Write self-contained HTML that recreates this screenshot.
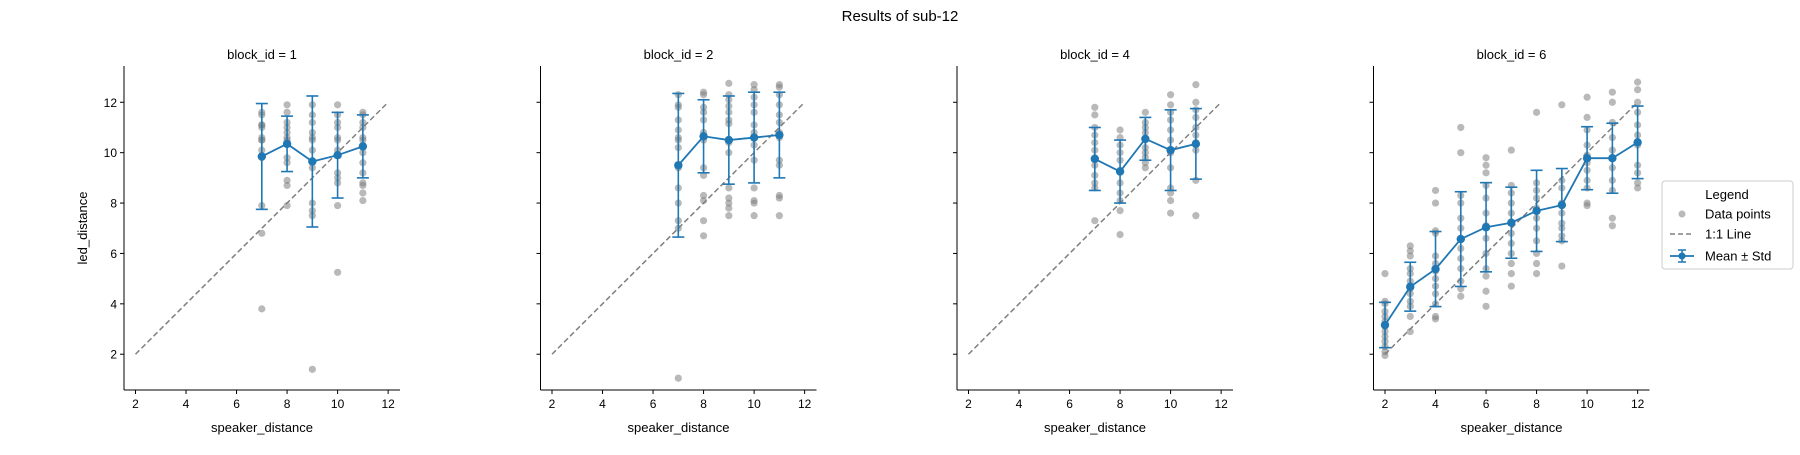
<!DOCTYPE html>
<html><head><meta charset="utf-8">
<style>
body{margin:0;background:#fff;}
svg text{font-family:"Liberation Sans","DejaVu Sans",sans-serif;fill:#000;}
</style></head>
<body>
<svg id="chart" width="1800" height="450" xmlns="http://www.w3.org/2000/svg">
<text x="900" y="21" font-size="15" text-anchor="middle">Results of sub-12</text>
<g id="panels"></g>
<g>
<rect x="1662" y="181" width="131" height="88" fill="#fff" stroke="#ccc" rx="3"/>
<text x="1727" y="199" font-size="13" text-anchor="middle">Legend</text>
<circle cx="1682" cy="214" r="3.5" fill="#808080" fill-opacity="0.55"/>
<text x="1705" y="218.5" font-size="13">Data points</text>
<line x1="1670" y1="234" x2="1694" y2="234" stroke="#808080" stroke-width="1.5" stroke-dasharray="5,3"/>
<text x="1705" y="238.5" font-size="13">1:1 Line</text>
<line x1="1670" y1="256" x2="1694" y2="256" stroke="#1f77b4" stroke-width="1.8"/>
<line x1="1682" y1="250" x2="1682" y2="262" stroke="#1f77b4" stroke-width="1.5"/>
<line x1="1678" y1="250" x2="1686" y2="250" stroke="#1f77b4" stroke-width="1.5"/>
<line x1="1678" y1="262" x2="1686" y2="262" stroke="#1f77b4" stroke-width="1.5"/>
<circle cx="1682" cy="256" r="3.5" fill="#1f77b4"/>
<text x="1705" y="260.5" font-size="13">Mean ± Std</text>
</g>
</svg>
<script>
const blockIds = [1, 2, 4, 6];
const meanX = [[7,8,9,10,11],[7,8,9,10,11],[7,8,9,10,11],[2,3,4,5,6,7,8,9,10,11,12]];
const meanY = [[9.85,10.35,9.65,9.9,10.25],[9.5,10.65,10.5,10.6,10.7],[9.75,9.25,10.55,10.1,10.35],[3.16,4.68,5.38,6.57,7.04,7.22,7.69,7.92,9.78,9.78,10.41]];
const stdY = [[2.1,1.1,2.6,1.7,1.25],[2.85,1.45,1.75,1.8,1.7],[1.25,1.25,0.85,1.6,1.4],[0.9,0.97,1.49,1.88,1.77,1.41,1.61,1.45,1.25,1.39,1.44]];
const pointsB1 = [[11.6,11.5,11.1,11.0,10.6,10.5,10.1,9.8,7.9,6.8,3.8,11.1,10.5],[11.9,11.6,11.2,11.0,10.8,10.6,10.5,9.8,9.6,8.9,8.7,7.9],[11.9,11.5,11.2,10.8,10.6,10.5,10.1,9.4,8.0,7.7,7.5,1.4],[11.9,11.5,11.2,11.0,10.6,10.5,10.1,9.2,9.0,8.8,7.9,5.25],[11.6,11.5,11.2,11.0,10.6,10.5,10.0,9.6,9.2,8.8,8.7,8.4,8.1]];
const pointsB2 = [[12.3,11.9,11.8,11.3,10.9,10.6,10.5,10.2,9.4,8.6,8.0,7.3,7.0,1.05],[12.4,12.3,11.8,11.6,11.3,10.8,10.5,9.4,9.1,8.3,8.1,7.3,6.7],[12.75,12.3,12.1,11.85,11.6,11.3,11.15,10.4,10.0,8.6,8.2,8.0,7.8,7.5],[12.7,12.5,12.2,11.9,11.6,11.1,10.8,10.3,9.7,8.6,8.1,8.0,7.5],[12.7,12.6,12.3,11.9,11.5,11.2,10.8,10.6,9.7,9.5,8.3,8.2,7.5]];
const pointsB4 = [[11.8,11.5,11.0,10.7,10.4,10.1,9.8,9.5,9.1,8.8,8.6,7.3],[10.9,10.6,10.3,10.0,9.7,9.3,8.8,8.4,8.1,7.7,6.75],[11.6,11.2,11.0,10.8,10.5,10.2,10.0,9.8,9.6,9.4],[12.3,11.9,11.6,11.3,10.9,10.5,10.0,9.4,8.6,8.4,8.1,7.6],[12.7,12.0,11.7,11.4,11.0,10.7,10.4,10.1,8.9,7.5]];
const pointsB6 = [[5.2,4.1,4.0,3.7,3.5,3.3,3.1,2.9,2.7,2.5,2.3,2.1,1.95],[6.3,6.1,5.9,5.4,5.2,4.9,4.6,4.4,4.1,3.9,3.5,2.9],[8.5,8.0,6.9,6.8,5.9,5.6,5.3,5.0,4.7,4.4,4.0,3.5,3.4],[11.0,10.0,8.3,8.0,7.4,7.0,6.6,6.2,5.8,5.4,4.9,4.6,4.3],[9.8,9.5,9.2,8.7,8.2,7.6,7.1,6.6,6.0,5.4,5.1,4.5,3.9],[10.1,8.7,8.4,8.0,7.6,7.2,6.8,6.4,6.0,5.6,5.2,4.7],[11.6,8.8,8.5,8.2,7.8,7.4,7.0,6.5,6.0,5.6,5.2],[11.9,8.9,8.6,8.0,7.6,7.2,7.0,6.7,6.5,5.5],[12.2,11.4,10.9,10.3,9.9,9.6,9.3,8.9,8.6,8.0,7.9],[12.4,12.0,11.2,10.6,10.1,9.8,9.4,8.9,8.5,7.4,7.1],[12.8,12.5,12.0,11.6,11.1,10.7,10.3,9.5,9.2,8.8,8.6]];
const pointsAll = [pointsB1, pointsB2, pointsB4, pointsB6];
const xTicks = [2,4,6,8,10,12];
const yTicks = [2,4,6,8,10,12];

const NS = "http://www.w3.org/2000/svg";
const root = document.getElementById('panels');
function mk(tag, attrs, parent){const e=document.createElementNS(NS,tag);for(const k in attrs)e.setAttribute(k,attrs[k]);parent.appendChild(e);return e;}
const axL0=124, axW=276, panelStep=416.5, axT=66, axB=390;
const xMin=1.545, xMax=12.47, yMin=0.58, yMax=13.44;
blockIds.forEach((bid, p) => {
  const L = axL0 + p*panelStep;
  const X = v => L + (v - xMin)/(xMax - xMin)*axW;
  const Y = v => axB - (v - yMin)/(yMax - yMin)*(axB - axT);
  const g = mk('g', {}, root);
  
  
  const t = mk('text', {x: L + axW/2, y: 59, 'font-size': 13, 'text-anchor': 'middle'}, g);
  t.textContent = 'block_id = ' + bid;
  
  
  // spines
  mk('line', {x1: L, y1: axT, x2: L, y2: axB, stroke: '#000', 'stroke-width': 1}, g);
  mk('line', {x1: L, y1: axB, x2: L + axW, y2: axB, stroke: '#000', 'stroke-width': 1}, g);
  xTicks.forEach(v => {
    mk('line', {x1: X(v), y1: axB, x2: X(v), y2: axB + 4, stroke: '#000'}, g);
    const tl = mk('text', {x: X(v), y: axB + 18, 'font-size': 12, 'text-anchor': 'middle'}, g);
    tl.textContent = v;
    
    
  });
  yTicks.forEach(v => {
    mk('line', {x1: L - 4, y1: Y(v), x2: L, y2: Y(v), stroke: '#000'}, g);
    if (p === 0) {
      const tl = mk('text', {x: L - 7, y: Y(v) + 4.5, 'font-size': 12, 'text-anchor': 'end'}, g);
      tl.textContent = v;
      
      
    }
  });
  const xl = mk('text', {x: L + axW/2, y: 432, 'font-size': 13, 'text-anchor': 'middle'}, g);
  xl.textContent = 'speaker_distance';
  
  
  if (p === 0) {
    const yl = mk('text', {x: 0, y: 0, 'font-size': 13, 'text-anchor': 'middle', transform: 'translate(87,' + ((axT+axB)/2) + ') rotate(-90)'}, g);
    yl.textContent = 'led_distance';
    
    
  }
  // scatter
  pointsAll[p].forEach((col, i) => {
    col.forEach(v => {
      const c = mk('circle', {cx: X(meanX[p][i]), cy: Y(v), r: 3.6, fill: '#808080', 'fill-opacity': 0.55}, g);
      
      
    });
  });
  // 1:1 line
  const dl = mk('line', {x1: X(2), y1: Y(2), x2: X(12), y2: Y(12), stroke: '#808080', 'stroke-width': 1.5, 'stroke-dasharray': '5.5,3'}, g);
  
  
  // error bars
  meanX[p].forEach((x, i) => {
    const m = meanY[p][i], s = stdY[p][i];
    mk('line', {x1: X(x), y1: Y(m - s), x2: X(x), y2: Y(m + s), stroke: '#1f77b4', 'stroke-width': 1.6}, g);
    mk('line', {x1: X(x) - 6, y1: Y(m - s), x2: X(x) + 6, y2: Y(m - s), stroke: '#1f77b4', 'stroke-width': 1.6}, g);
    mk('line', {x1: X(x) - 6, y1: Y(m + s), x2: X(x) + 6, y2: Y(m + s), stroke: '#1f77b4', 'stroke-width': 1.6}, g);
  });
  const pl = mk('polyline', {points: meanX[p].map((x, i) => X(x) + ',' + Y(meanY[p][i])).join(' '), fill: 'none', stroke: '#1f77b4', 'stroke-width': 1.8}, g);
  
  
  meanX[p].forEach((x, i) => {
    const c = mk('circle', {cx: X(x), cy: Y(meanY[p][i]), r: 4.2, fill: '#1f77b4'}, g);
    
    
  });
});
</script>
</body></html>
